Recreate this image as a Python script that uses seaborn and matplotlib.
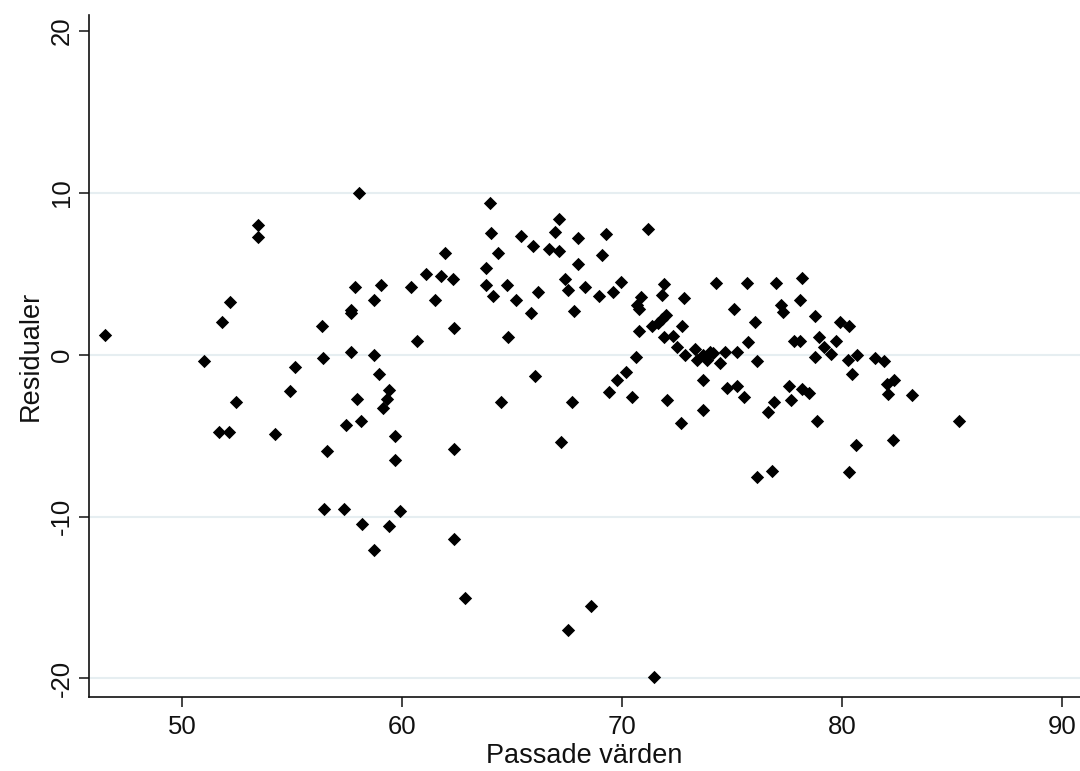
import matplotlib
matplotlib.use("Agg")
import matplotlib.pyplot as plt
import seaborn as sns
import pandas as pd

# Fitted values (x) and residuals (y)
fitted = [
    46.5, 50.99, 51.68, 51.83, 52.12, 52.18, 52.44, 53.45, 53.45, 54.24,
    54.9, 55.15, 56.35, 56.42, 56.59, 56.44, 57.35, 57.44, 57.68, 57.68,
    57.68, 57.86, 57.95, 58.06, 58.12, 58.2, 58.71, 58.71, 58.73, 58.97,
    59.05, 59.12, 59.3, 59.39, 59.39, 59.67, 59.67, 59.91, 60.41, 60.67,
    61.09, 61.5, 61.79, 61.94, 62.3, 62.36, 62.38, 62.38, 62.88, 63.8,
    63.8, 64.0, 64.06, 64.15, 64.35, 64.49, 64.76, 64.83, 65.18, 65.42,
    65.85, 65.94, 66.03, 66.2, 66.67, 66.95, 67.12, 67.15, 67.21, 67.39,
    67.55, 67.55, 67.73, 67.82, 68.0, 68.0, 68.32, 68.59, 68.94, 69.09,
    69.27, 69.42, 69.6, 69.77, 69.94, 70.18, 70.44, 70.62, 70.67, 70.79,
    70.85, 70.79, 71.2, 71.35, 71.47, 71.65, 71.8, 71.8, 71.9, 71.92,
    71.99, 72.06, 72.33, 72.49, 72.67, 72.74, 72.82, 72.86, 73.32, 73.39,
    73.67, 73.67, 73.7, 73.85, 74.0, 74.15, 74.26, 74.44, 74.68, 74.76,
    75.1, 75.21, 75.21, 75.53, 75.7, 75.71, 76.06, 76.15, 76.15, 76.62,
    76.82, 76.91, 76.99, 77.21, 77.33, 77.58, 77.67, 77.82, 78.09, 78.09,
    78.17, 78.18, 78.51, 78.77, 78.77, 78.85, 78.95, 79.18, 79.51, 79.71,
    79.9, 80.3, 80.29, 80.3, 80.47, 80.65, 80.67, 81.5, 81.91, 82.06,
    82.08, 82.33, 82.36, 83.2, 85.32,
]
residuals = [
    1.2, -0.41, -4.8, 2.0, -4.8, 3.27, -2.94, 8.0, 7.3, -4.92,
    -2.24, -0.76, 1.79, -0.19, -5.95, -9.53, -9.53, -4.34, 2.78, 2.57,
    0.17, 4.22, -2.72, 10.0, -4.1, -10.45, 3.4, -0.04, -12.06, -1.21,
    4.32, -3.31, -2.72, -2.2, -10.58, -5.0, -6.52, -9.63, 4.22, 0.85,
    5.02, 3.4, 4.88, 6.3, 4.69, 1.67, -5.82, -11.38, -15.06, 5.35,
    4.32, 9.4, 7.55, 3.64, 6.3, -2.94, 4.32, 1.09, 3.4, 7.35,
    2.59, 6.75, -1.31, 3.87, 6.54, 7.57, 8.38, 6.42, -5.37, 4.69,
    3.99, -17.02, -2.94, 2.72, 7.2, 5.6, 4.22, -15.52, 3.64, 6.17,
    7.45, -2.33, 3.85, -1.54, 4.47, -1.07, -2.61, -0.16, 3.09, 2.82,
    3.56, 1.44, 7.78, 1.81, -19.9, 1.96, 2.2, 3.72, 4.38, 1.13,
    2.47, -2.82, 1.17, 0.51, -4.22, 1.81, 3.52, 0.0, 0.35, -0.31,
    -1.54, -3.4, 0.0, -0.31, 0.2, 0.14, 4.44, -0.49, 0.17, -2.04,
    2.84, 0.17, -1.9, -2.59, 4.44, 0.76, 2.02, -0.41, -7.55, -3.52,
    -7.2, -2.94, 4.44, 3.09, 2.67, -1.9, -2.82, 0.86, 0.86, 3.41,
    -2.12, 4.77, -2.37, 2.39, -0.16, -4.1, 1.13, 0.51, 0.06, 0.86,
    2.02, 1.79, -0.31, -7.22, -1.21, -5.6, 0.0, -0.2, -0.41, -1.79,
    -2.43, -5.25, -1.54, -2.49, -4.1,
]

x_ticks = [50, 60, 70, 80, 90]
y_ticks = [-20, -10, 0, 10, 20]
y_grid = [-20, -10, 0, 10]
x_label = "Passade värden"
y_label = "Residualer"

df = pd.DataFrame({"fitted": fitted, "resid": residuals})

sns.set_style("white")
plt.rcParams["font.family"] = ["Liberation Sans", "DejaVu Sans"]

fig = plt.figure(figsize=(10.8, 7.71), dpi=100)
ax = fig.add_axes([89 / 1080, 1 - 697 / 771, (1080 - 89) / 1080, (697 - 15) / 771])

for g in y_grid:
    ax.axhline(g, color="#e6eef1", linewidth=1.5, zorder=0)

sns.scatterplot(data=df, x="fitted", y="resid", marker="D", color="black",
                s=46, linewidth=0, ax=ax, zorder=3, legend=False)

ax.set_xlim(45.77, 90.82)
ax.set_ylim(-21.15, 21.0)
ax.set_xticks(x_ticks)
ax.set_yticks(y_ticks)
ax.set_xticklabels([str(t) for t in x_ticks], fontsize=18.5, color="#111111")
ax.set_yticklabels([str(t) for t in y_ticks], fontsize=18.5, color="#111111",
                   rotation=90, va="center")
ax.tick_params(axis="both", direction="out", length=7, width=1.1, color="#111111",
               bottom=True, left=True)
ax.tick_params(axis="x", pad=6)
ax.tick_params(axis="y", pad=4)

ax.set_xlabel(x_label, fontsize=19.5, color="#111111", labelpad=3)
ax.set_ylabel(y_label, fontsize=19.5, color="#111111", labelpad=4)

for side in ["top", "right"]:
    ax.spines[side].set_visible(False)
for side in ["left", "bottom"]:
    ax.spines[side].set_color("#111111")
    ax.spines[side].set_linewidth(1.2)

fig.savefig("out.png", dpi=100)
